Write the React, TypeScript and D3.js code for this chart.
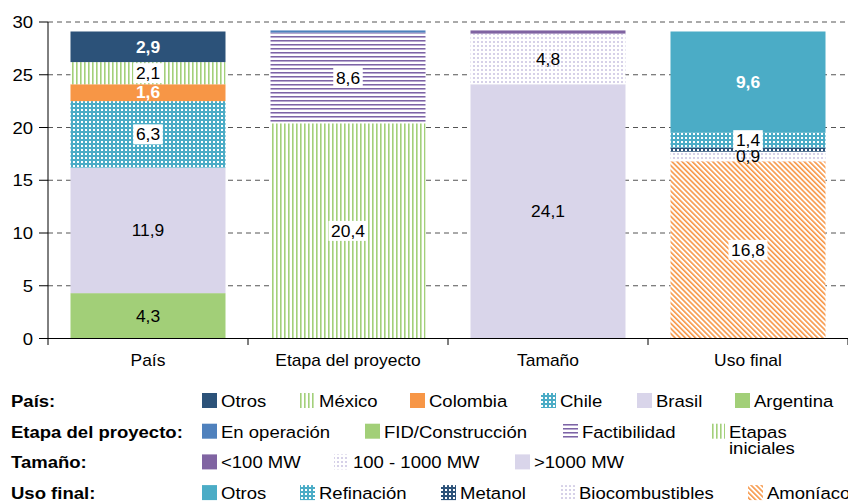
import React from "react";
import * as d3 from "d3";

// Categories along the x axis
const categories = ["País", "Etapa del proyecto", "Tamaño", "Uso final"];

// Stacked segments, bottom to top, per category (GW)
const paisKeys = ["Argentina", "Brasil", "Chile", "Colombia", "México", "Otros"];
const paisValues = [4.3, 11.9, 6.3, 1.6, 2.1, 2.9];

const etapaKeys = ["Etapas iniciales", "Factibilidad", "FID/Construcción", "En operación"];
const etapaValues = [20.4, 8.6, 0, 0.2];

const tamanoKeys = [">1000 MW", "100 - 1000 MW", "<100 MW"];
const tamanoValues = [24.1, 4.8, 0.3];

const usoKeys = ["Amoníaco", "Biocombustibles", "Metanol", "Refinación", "Otros"];
const usoValues = [16.8, 0.9, 0.4, 1.4, 9.6];

const yTicks = [0, 5, 10, 15, 20, 25, 30];

type LabelStyle = "none" | "white" | "boxed" | "plain";
type Seg = { key: string; value: number; fill: string; label: LabelStyle };

const C = {
  navy: "#2C5279",
  teal: "#4BACC6",
  orange: "#F79646",
  lav: "#D9D5EA",
  green: "#A2CF78",
  blue: "#4F81BD",
  purple: "#8064A2",
};

const stacks: Seg[][] = [
  paisKeys.map((k, i) => ({
    key: k,
    value: paisValues[i],
    fill: [C.green, C.lav, "url(#dotTeal)", C.orange, "url(#vStripe)", C.navy][i],
    label: (["plain", "plain", "boxed", "white", "boxed", "white"] as LabelStyle[])[i],
  })),
  etapaKeys.map((k, i) => ({
    key: k,
    value: etapaValues[i],
    fill: ["url(#vStripe)", "url(#hStripe)", C.green, C.blue][i],
    label: (["boxed", "boxed", "none", "none"] as LabelStyle[])[i],
  })),
  tamanoKeys.map((k, i) => ({
    key: k,
    value: tamanoValues[i],
    fill: [C.lav, "url(#dotLav)", C.purple][i],
    label: (["plain", "plain", "none"] as LabelStyle[])[i],
  })),
  usoKeys.map((k, i) => ({
    key: k,
    value: usoValues[i],
    fill: ["url(#diagOrange)", "url(#dotLav)", "url(#dotNavy)", "url(#dotTeal)", C.teal][i],
    label: (["boxed", "plain", "none", "boxed", "white"] as LabelStyle[])[i],
  })),
];

// Legend rows
const legendTitles = ["País:", "Etapa del proyecto:", "Tamaño:", "Uso final:"];
const legendRows: { name: string; fill: string; x: number }[][] = [
  [
    { name: "Otros", fill: C.navy, x: 202 },
    { name: "México", fill: "url(#vStripe)", x: 300 },
    { name: "Colombia", fill: C.orange, x: 410 },
    { name: "Chile", fill: "url(#dotTeal)", x: 541 },
    { name: "Brasil", fill: C.lav, x: 637 },
    { name: "Argentina", fill: C.green, x: 735 },
  ],
  [
    { name: "En operación", fill: C.blue, x: 202 },
    { name: "FID/Construcción", fill: C.green, x: 365 },
    { name: "Factibilidad", fill: "url(#hStripe)", x: 563 },
    { name: "Etapas|iniciales", fill: "url(#vStripe)", x: 710 },
  ],
  [
    { name: "<100 MW", fill: C.purple, x: 202 },
    { name: "100 - 1000 MW", fill: "url(#dotLav)", x: 334 },
    { name: ">1000 MW", fill: C.lav, x: 515 },
  ],
  [
    { name: "Otros", fill: C.teal, x: 202 },
    { name: "Refinación", fill: "url(#dotTeal)", x: 300 },
    { name: "Metanol", fill: "url(#dotNavy)", x: 441 },
    { name: "Biocombustibles", fill: "url(#dotLav)", x: 560 },
    { name: "Amoníaco", fill: "url(#diagOrange)", x: 748 },
  ],
];

const W = 848;
const H = 504;
const FONT = "'Liberation Sans', Arial, sans-serif";
const SX = 1.09; // horizontal stretch of the typeface
const fmt = (v: number) => v.toFixed(1).replace(".", ",");

function Txt(props: {
  x: number;
  y: number;
  size: number;
  anchor?: "start" | "middle" | "end";
  bold?: boolean;
  fill?: string;
  dy?: string;
  children: React.ReactNode;
}) {
  const { x, y, size, anchor = "start", bold, fill = "#000", dy, children } = props;
  return (
    <text
      transform={`translate(${x},${y}) scale(${SX},1)`}
      dy={dy}
      textAnchor={anchor}
      fontSize={size}
      fontWeight={bold ? "bold" : "normal"}
      fill={fill}
    >
      {children}
    </text>
  );
}

export default function App() {
  const x = d3.scaleBand<string>().domain(categories).range([48, 848]).paddingInner(0.225).paddingOuter(0.1125);
  const y = d3.scaleLinear().domain([0, 30]).range([338.5, 22]);
  const bw = x.bandwidth();
  const step = x.step();

  return (
    <svg width={W} height={H} style={{ position: "absolute", left: 0, top: 0, background: "#fff" }} fontFamily={FONT}>
      <defs>
        <pattern id="vStripe" patternUnits="userSpaceOnUse" width={4} height={4}>
          <rect width={4} height={4} fill="#fff" />
          <rect x={0} width={1.6} height={4} fill="#A3D07A" />
        </pattern>
        <pattern id="hStripe" patternUnits="userSpaceOnUse" width={4} height={4}>
          <rect width={4} height={4} fill="#fff" />
          <rect y={0} width={4} height={1} fill="#7D64A5" />
          <rect y={1} width={4} height={1} fill="#B8A9D1" />
        </pattern>
        <pattern id="dotTeal" patternUnits="userSpaceOnUse" width={4} height={4}>
          <rect width={4} height={4} fill={C.teal} />
          <rect x={1} y={1} width={2} height={2} fill="#fff" />
        </pattern>
        <pattern id="dotNavy" patternUnits="userSpaceOnUse" width={4} height={4}>
          <rect width={4} height={4} fill={C.navy} />
          <rect x={1} y={1} width={2} height={2} fill="#fff" />
        </pattern>
        <pattern id="dotLav" patternUnits="userSpaceOnUse" width={4} height={4}>
          <rect width={4} height={4} fill="#fff" />
          <rect x={1} y={1} width={2} height={2} fill="#D6D1E8" />
        </pattern>
        <pattern id="diagOrange" patternUnits="userSpaceOnUse" width={3.6} height={3.6} patternTransform="rotate(-45)">
          <rect width={3.6} height={3.6} fill="#fff" />
          <rect x={0} width={1.6} height={3.6} fill={C.orange} />
        </pattern>
      </defs>

      {/* gridlines */}
      {yTicks
        .filter((t) => t > 0)
        .map((t) => (
          <line key={t} x1={48} x2={848} y1={y(t)} y2={y(t)} stroke="#555" strokeWidth={1} strokeDasharray="5,4" />
        ))}

      {/* stacked bars */}
      {stacks.map((segs, ci) => {
        const cat = categories[ci];
        const x0 = x(cat)!;
        let acc = 0;
        return (
          <g key={cat}>
            {segs.map((s) => {
              const y0 = acc;
              acc += s.value;
              if (s.value <= 0) return null;
              return <rect key={s.key} x={x0} width={bw} y={y(acc)} height={y(y0) - y(acc)} fill={s.fill} />;
            })}
          </g>
        );
      })}

      {/* value labels */}
      {stacks.map((segs, ci) => {
        const cat = categories[ci];
        const cx = x(cat)! + bw / 2;
        let acc = 0;
        return (
          <g key={cat + "-l"}>
            {segs.map((s) => {
              const y0 = acc;
              acc += s.value;
              if (s.label === "none") return null;
              const cy = (y(y0) + y(acc)) / 2;
              const txt = fmt(s.value);
              const bold = s.label === "white";
              const boxW = txt.length * 9.5 + 1;
              return (
                <g key={s.key}>
                  {s.label === "boxed" && <rect x={cx - boxW / 2} y={cy - 10} width={boxW} height={20} fill="#fff" />}
                  <Txt x={cx} y={cy} dy="0.36em" anchor="middle" size={16} bold={bold} fill={bold ? "#fff" : "#000"}>
                    {txt}
                  </Txt>
                </g>
              );
            })}
          </g>
        );
      })}

      {/* y axis */}
      <line x1={48} x2={48} y1={22} y2={345} stroke="#000" />
      {yTicks.map((t) => (
        <g key={t}>
          <line x1={39} x2={48} y1={y(t)} y2={y(t)} stroke="#000" />
          <Txt x={33} y={y(t)} dy="0.36em" anchor="end" size={17}>
            {t}
          </Txt>
        </g>
      ))}

      {/* x axis */}
      <line x1={48} x2={848} y1={y(0)} y2={y(0)} stroke="#000" />
      {categories.map((c) => {
        const edge = x(c)! - (step - bw) / 2 + step;
        return (
          <g key={c}>
            <line x1={edge} x2={edge} y1={y(0)} y2={345} stroke="#000" />
            <Txt x={x(c)! + bw / 2} y={366} anchor="middle" size={16}>
              {c}
            </Txt>
          </g>
        );
      })}

      {/* legend */}
      {legendRows.map((row, ri) => {
        const top = 393 + ri * 30.7;
        return (
          <g key={ri}>
            <Txt x={11} y={top + 14} size={17} bold>
              {legendTitles[ri]}
            </Txt>
            {row.map((it) => {
              const lines = it.name.split("|");
              return (
                <g key={it.name}>
                  <rect x={it.x} y={top} width={15} height={15} fill={it.fill} />
                  {lines.map((l, li) => (
                    <Txt key={li} x={it.x + 19} y={top + 14 + li * 16.5} size={17}>
                      {l}
                    </Txt>
                  ))}
                </g>
              );
            })}
          </g>
        );
      })}
    </svg>
  );
}
